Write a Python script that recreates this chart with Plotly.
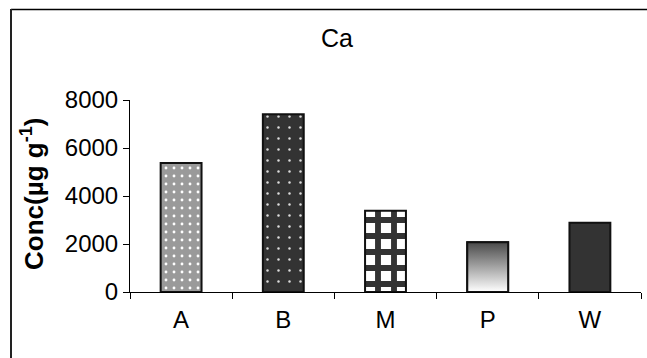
import plotly.graph_objects as go

categories = ["A", "B", "M", "P", "W"]
values = [5380, 7410, 3390, 2070, 2890]
title_text = "Ca"
y_title = "Conc(µg g<sup>-1</sup>)"
y_ticks = [0, 2000, 4000, 6000, 8000]

W, H = 647, 358
L, R, T, B = 130, 6, 100, 66
PW, PH = W - L - R, H - T - B

def px_x(px):
    return (px - L) / PW

def px_y(py):
    return (H - B - py) / PH

FONT = "Liberation Sans, Arial, sans-serif"
bar_width = 0.4

# per-bar fill styles: (background, pattern shape, pattern colour, size, solidity)
styles = {
    "A": ("#9a9a9a", ".", "#ffffff", 8, 0.1),
    "B": ("#333333", ".", "#dddddd", 11, 0.04),
    "M": ("#ffffff", "+", "#333333", 16, 0.6),
    "P": ("#ffffff", "", "#ffffff", 8, 0.1),
    "W": ("#333333", "", "#333333", 8, 0.1),
}

fig = go.Figure()
for cat, val in zip(categories, values):
    bg, shp, fg, sz, sol = styles[cat]
    fig.add_trace(go.Bar(
        x=[cat], y=[val], width=bar_width,
        marker=dict(
            color=bg,
            line=dict(color="#111111", width=2),
            pattern=dict(shape=shp, fgcolor=fg, fgopacity=1, size=sz, solidity=sol,
                         fillmode="overlay"),
        ),
        showlegend=False, hoverinfo="skip",
    ))

# gradient fill for P, built from its data value on an overlaid numeric axis
pi = categories.index("P")
pv = values[pi]
fig.add_trace(go.Scatter(
    x=[pi - bar_width / 2, pi + bar_width / 2, pi + bar_width / 2, pi - bar_width / 2, pi - bar_width / 2],
    y=[0, 0, pv, pv, 0],
    xaxis="x2", yaxis="y",
    mode="lines", fill="toself",
    line=dict(color="#111111", width=2),
    fillgradient=dict(type="vertical", colorscale=[[0, "#ffffff"], [1, "#4a4a4a"]]),
    showlegend=False, hoverinfo="skip",
))

fig.update_layout(
    width=W, height=H,
    margin=dict(l=L, r=R, t=T, b=B),
    paper_bgcolor="white", plot_bgcolor="white",
    font=dict(family=FONT, size=24, color="black"),
    barmode="overlay",
    xaxis=dict(
        type="category", range=[-0.5, 4.5],
        showline=True, linecolor="black", linewidth=1,
        ticks="outside", tickson="boundaries", ticklen=6, tickcolor="black",
        showgrid=False, zeroline=False,
        tickfont=dict(size=24), ticklabelstandoff=6,
    ),
    xaxis2=dict(
        overlaying="x", range=[-0.5, 4.5], visible=False, showgrid=False, zeroline=False,
    ),
    yaxis=dict(
        range=[0, 8000], tickvals=y_ticks,
        showline=True, linecolor="black", linewidth=1,
        ticks="outside", ticklen=6, tickcolor="black",
        showgrid=False, zeroline=False,
        tickfont=dict(size=24),
    ),
    annotations=[
        dict(text=title_text, xref="paper", yref="paper", x=px_x(337), y=px_y(38),
             xanchor="center", yanchor="middle", showarrow=False, font=dict(size=25)),
        dict(text=y_title, xref="paper", yref="paper", x=px_x(32), y=px_y(194),
             xanchor="center", yanchor="middle", showarrow=False, textangle=-90,
             font=dict(size=26, family=FONT, weight="bold")),
    ],
    shapes=[
        dict(type="line", xref="paper", yref="paper", x0=px_x(11), x1=px_x(700),
             y0=px_y(9.5), y1=px_y(9.5), line=dict(color="black", width=1.5), layer="above"),
        dict(type="line", xref="paper", yref="paper", x0=px_x(11), x1=px_x(11),
             y0=px_y(9), y1=px_y(400), line=dict(color="#222222", width=2), layer="above"),
    ],
)

fig.write_html("out.html")
